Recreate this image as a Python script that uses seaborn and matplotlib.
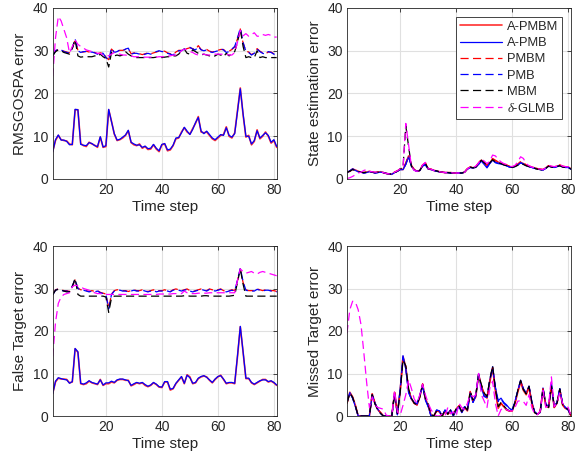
import matplotlib
matplotlib.use("Agg")
import matplotlib.pyplot as plt
import seaborn as sns
import pandas as pd

# ---------------- data ----------------
time_step = list(range(1, 82))
series_names = ["A-PMBM", "A-PMB", "PMBM", "PMB", "MBM", r"$\delta$-GLMB"]

# RMSGOSPA error
tl_apmbm = [6.4, 9.0, 10.2, 9.2, 9.0, 8.9, 8.2, 8.0, 16.2, 16.2,
            8.3, 7.8, 7.6, 8.6, 8.2, 7.9, 7.4, 9.8, 7.4, 7.6,
            16.2, 13.5, 10.5, 9.0, 9.2, 9.6, 10.2, 11.3, 8.5, 8.0,
            7.8, 8.2, 7.2, 7.6, 6.9, 7.0, 8.0, 7.0, 6.4, 8.0,
            8.2, 6.6, 6.8, 7.8, 9.4, 9.6, 11.0, 12.0, 11.0, 10.5,
            11.8, 13.0, 14.6, 11.0, 10.8, 11.0, 10.2, 9.4, 9.0, 9.6,
            10.2, 10.4, 12.2, 10.0, 9.6, 10.8, 16.0, 21.3, 15.0, 9.8,
            10.2, 8.0, 8.8, 11.5, 9.4, 10.0, 11.0, 10.0, 8.4, 9.0, 7.4]
tl_apmb = [6.3, 9.2, 10.3, 9.1, 9.1, 8.8, 8.0, 8.1, 16.3, 16.2,
           8.1, 7.9, 7.8, 8.5, 8.3, 7.8, 7.6, 9.9, 7.5, 7.8,
           16.3, 13.4, 10.6, 9.1, 9.3, 9.8, 10.3, 11.4, 8.6, 8.2,
           7.9, 8.0, 7.4, 7.7, 7.1, 7.2, 8.1, 7.2, 6.6, 8.1,
           8.3, 6.8, 7.0, 7.9, 9.6, 9.7, 10.8, 12.1, 11.2, 10.4,
           11.6, 13.2, 14.4, 11.2, 10.6, 11.2, 10.4, 9.6, 9.2, 9.8,
           10.4, 10.2, 12.0, 10.2, 9.8, 10.6, 15.8, 21.1, 15.2, 10.0,
           10.0, 8.2, 9.0, 11.3, 9.6, 10.2, 10.8, 10.2, 8.6, 9.2, 7.6]
tl_pmbm = [28.9, 29.9, 30.3, 30.1, 29.9, 29.7, 29.5, 30.5, 32.6, 30.1,
           29.7, 29.7, 29.9, 29.7, 29.6, 29.6, 29.3, 29.5, 29.5, 28.5,
           27.9, 30.4, 29.7, 29.9, 30.1, 30.1, 30.3, 30.5, 29.3, 29.5,
           29.5, 29.3, 29.1, 29.3, 29.5, 29.3, 29.5, 29.7, 29.9, 29.9,
           29.9, 29.5, 29.3, 29.1, 29.7, 30.1, 30.1, 30.3, 30.5, 30.7,
           30.5, 30.3, 31.2, 30.3, 30.1, 30.3, 29.9, 29.7, 29.9, 30.1,
           30.3, 30.3, 29.7, 29.9, 30.3, 30.9, 32.8, 35.1, 31.8, 29.9,
           29.7, 29.1, 29.5, 30.5, 29.9, 29.5, 29.3, 29.7, 29.7, 29.3, 29.3]
tl_pmb = [28.8, 30.0, 30.4, 30.2, 29.8, 29.6, 29.4, 30.6, 32.8, 30.0,
          29.6, 29.8, 29.8, 29.6, 29.7, 29.5, 29.2, 29.6, 29.4, 28.4,
          27.8, 30.6, 29.6, 29.8, 30.2, 30.0, 30.4, 30.6, 29.2, 29.4,
          29.4, 29.2, 29.0, 29.2, 29.4, 29.2, 29.4, 29.8, 30.0, 29.8,
          29.8, 29.4, 29.2, 29.0, 29.6, 30.0, 30.0, 30.4, 30.6, 30.8,
          30.4, 30.2, 31.0, 30.2, 30.0, 30.2, 29.8, 29.6, 29.8, 30.0,
          30.4, 30.2, 29.6, 29.8, 30.4, 31.0, 33.0, 35.3, 32.0, 29.8,
          29.6, 29.0, 29.4, 30.4, 29.8, 29.4, 29.2, 29.8, 29.6, 29.2, 29.2]
tl_mbm = [28.8, 29.8, 30.2, 30.0, 29.6, 29.4, 29.2, 30.6, 32.6, 28.8,
          28.5, 28.6, 28.6, 28.6, 28.6, 28.8, 28.6, 29.2, 28.6, 28.2,
          26.2, 29.6, 28.8, 29.0, 28.8, 29.0, 29.8, 29.2, 28.8, 28.6,
          28.4, 28.4, 28.4, 28.4, 28.4, 28.4, 28.4, 28.5, 28.5, 28.4,
          28.5, 28.6, 28.6, 28.8, 28.8, 29.2, 30.0, 30.4, 29.4, 29.2,
          30.2, 29.8, 29.4, 29.0, 29.2, 29.0, 28.8, 28.6, 28.8, 29.2,
          29.0, 28.6, 29.4, 28.8, 29.4, 29.8, 32.0, 35.0, 31.0, 28.4,
          28.6, 28.4, 28.4, 30.0, 28.4, 28.6, 28.4, 28.4, 28.4, 28.4, 28.4]
tl_glmb = [24.0, 33.0, 38.0, 37.0, 35.0, 33.0, 29.5, 31.0, 32.5, 31.5,
           31.0, 30.6, 30.2, 30.0, 29.8, 29.6, 29.4, 29.4, 29.0, 29.0,
           28.8, 29.2, 29.6, 29.4, 29.2, 29.0, 29.0, 28.8, 28.8, 28.6,
           28.6, 28.6, 28.5, 28.5, 28.5, 28.5, 28.5, 28.5, 28.6, 28.6,
           28.6, 28.8, 28.8, 29.0, 29.0, 29.4, 30.0, 30.4, 30.2, 29.8,
           29.6, 29.2, 29.0, 29.2, 29.2, 29.0, 29.0, 29.0, 29.2, 29.2,
           29.2, 29.2, 29.2, 29.0, 29.0, 29.6, 32.0, 34.8, 33.5, 34.0,
           33.4, 33.8, 34.2, 33.4, 33.4, 33.8, 33.6, 33.8, 33.6, 33.2, 33.2]

# State estimation error
tr_apmbm = [1.6, 1.8, 2.3, 2.1, 1.8, 1.6, 1.5, 1.6, 1.8, 1.6,
            1.5, 1.6, 1.7, 1.5, 1.3, 1.2, 1.1, 1.6, 1.9, 2.3,
            2.2, 3.6, 5.4, 3.2, 2.2, 1.8, 2.0, 3.2, 3.6, 2.4,
            2.3, 2.0, 1.9, 1.7, 1.6, 1.5, 1.5, 1.5, 1.4, 1.4,
            1.4, 1.4, 1.6, 2.4, 2.8, 2.6, 2.8, 3.6, 4.4, 3.8,
            2.9, 3.8, 4.6, 4.2, 3.9, 3.7, 3.4, 3.2, 2.9, 2.8,
            3.0, 3.4, 3.9, 3.6, 3.2, 3.0, 2.8, 2.6, 2.4, 2.3,
            2.2, 2.6, 3.1, 2.9, 2.8, 3.0, 3.2, 2.9, 2.8, 2.8, 2.4]
tr_apmb = [1.5, 1.9, 2.4, 2.0, 1.7, 1.6, 1.4, 1.5, 1.7, 1.6,
           1.4, 1.5, 1.6, 1.5, 1.3, 1.2, 1.1, 1.5, 1.8, 2.2,
           2.2, 3.4, 5.2, 3.0, 2.1, 1.8, 2.0, 3.0, 3.3, 2.3,
           2.2, 2.0, 1.8, 1.7, 1.6, 1.5, 1.5, 1.4, 1.4, 1.4,
           1.4, 1.4, 1.6, 2.3, 2.7, 2.6, 2.7, 3.4, 4.2, 3.4,
           2.6, 3.6, 4.4, 3.8, 3.6, 3.5, 3.3, 3.1, 2.8, 2.7,
           2.9, 3.3, 3.8, 3.5, 3.1, 2.9, 2.7, 2.5, 2.3, 2.2,
           2.1, 2.5, 3.0, 2.8, 2.7, 2.9, 3.1, 2.8, 2.7, 2.7, 2.3]
tr_pmbm = [1.6, 1.8, 2.3, 2.1, 1.8, 1.6, 1.5, 1.6, 1.8, 1.6,
           1.5, 1.6, 1.7, 1.5, 1.3, 1.2, 1.1, 1.6, 1.9, 2.3,
           2.3, 3.8, 5.5, 3.3, 2.2, 1.8, 2.0, 3.3, 3.8, 2.4,
           2.3, 2.0, 1.9, 1.7, 1.6, 1.5, 1.5, 1.5, 1.4, 1.4,
           1.4, 1.4, 1.6, 2.4, 2.8, 2.7, 2.9, 3.8, 4.6, 4.0,
           3.2, 4.0, 4.8, 4.4, 4.0, 3.8, 3.5, 3.3, 3.0, 2.9,
           3.1, 3.5, 4.1, 3.8, 3.3, 3.0, 2.8, 2.6, 2.4, 2.3,
           2.2, 2.6, 3.1, 2.9, 2.8, 3.0, 3.3, 3.0, 2.9, 2.8, 2.4]
tr_pmb = [1.5, 1.9, 2.3, 2.0, 1.7, 1.6, 1.4, 1.5, 1.7, 1.6,
          1.4, 1.5, 1.6, 1.5, 1.3, 1.2, 1.1, 1.5, 1.8, 2.2,
          2.2, 3.5, 5.3, 3.1, 2.1, 1.8, 2.0, 3.1, 3.4, 2.3,
          2.2, 2.0, 1.8, 1.7, 1.6, 1.5, 1.5, 1.4, 1.4, 1.4,
          1.4, 1.4, 1.6, 2.3, 2.7, 2.6, 2.8, 3.5, 4.3, 3.5,
          2.8, 3.7, 4.5, 3.9, 3.7, 3.6, 3.3, 3.1, 2.8, 2.7,
          2.9, 3.3, 3.8, 3.5, 3.1, 2.9, 2.7, 2.5, 2.3, 2.2,
          2.1, 2.5, 3.0, 2.8, 2.7, 2.9, 3.1, 2.8, 2.7, 2.7, 2.3]
tr_mbm = [1.6, 1.8, 2.2, 2.0, 1.7, 1.6, 1.5, 1.6, 1.8, 1.6,
          1.5, 1.6, 1.6, 1.5, 1.3, 1.2, 1.1, 1.5, 1.8, 2.4,
          2.6, 12.4, 7.6, 3.0, 2.1, 1.8, 2.0, 3.1, 3.6, 2.4,
          2.2, 2.0, 1.9, 1.7, 1.6, 1.5, 1.5, 1.4, 1.4, 1.4,
          1.4, 1.4, 1.6, 2.4, 2.8, 2.6, 2.8, 3.6, 4.4, 3.8,
          3.2, 3.8, 4.5, 4.0, 3.8, 3.6, 3.3, 3.1, 2.8, 2.7,
          2.9, 3.2, 3.6, 3.4, 3.1, 2.9, 2.7, 2.5, 2.3, 2.2,
          2.1, 2.5, 3.0, 2.8, 2.7, 2.9, 3.1, 2.8, 2.7, 2.7, 2.3]
tr_glmb = [0.1, 0.3, 0.6, 1.0, 1.4, 1.6, 2.0, 2.2, 1.8, 1.7,
           1.6, 1.6, 1.6, 1.5, 1.3, 1.2, 1.1, 1.6, 1.9, 2.4,
           2.6, 13.0, 8.0, 3.0, 2.0, 1.8, 2.0, 3.3, 3.9, 2.4,
           2.3, 2.0, 1.9, 1.7, 1.6, 1.5, 1.5, 1.5, 1.4, 1.4,
           1.4, 1.4, 1.6, 2.4, 2.8, 2.7, 3.0, 3.8, 4.6, 4.2,
           3.6, 4.2, 5.6, 5.4, 4.6, 4.0, 3.6, 3.4, 3.0, 2.9,
           3.2, 4.0, 5.2, 4.8, 3.6, 3.1, 2.8, 2.6, 2.4, 2.3,
           2.2, 2.6, 3.2, 3.0, 2.9, 3.0, 3.4, 3.0, 2.9, 2.8, 2.4]

# False Target error
bl_apmbm = [5.3, 8.0, 8.9, 8.7, 8.7, 8.6, 7.8, 8.0, 15.8, 15.0,
            7.6, 7.4, 7.6, 8.2, 7.8, 7.6, 7.4, 8.6, 7.2, 7.6,
            7.6, 8.0, 7.8, 8.4, 8.6, 8.6, 8.4, 8.4, 7.1, 7.4,
            7.8, 7.6, 7.8, 7.2, 6.9, 7.2, 7.8, 7.4, 6.8, 6.7,
            8.0, 8.0, 6.1, 6.4, 7.6, 8.4, 9.2, 7.6, 9.7, 9.2,
            7.6, 7.8, 8.8, 9.2, 9.4, 9.2, 8.4, 7.8, 8.6, 9.2,
            9.6, 8.6, 7.6, 7.8, 7.8, 7.6, 14.0, 21.0, 15.0, 8.8,
            8.8, 7.8, 7.4, 7.8, 8.2, 8.6, 8.6, 8.0, 8.2, 7.8, 7.2]
bl_apmb = [5.2, 8.2, 9.0, 8.8, 8.6, 8.5, 7.7, 8.1, 15.9, 15.1,
           7.7, 7.5, 7.8, 8.3, 7.9, 7.7, 7.5, 8.5, 7.3, 7.8,
           7.8, 8.2, 7.9, 8.5, 8.7, 8.7, 8.5, 8.3, 7.2, 7.6,
           7.9, 7.7, 7.9, 7.4, 7.0, 7.3, 7.9, 7.5, 6.9, 6.8,
           8.1, 8.1, 6.3, 6.5, 7.7, 8.5, 9.3, 7.7, 9.6, 9.0,
           7.7, 7.9, 8.9, 9.3, 9.5, 9.1, 8.5, 7.9, 8.7, 9.3,
           9.5, 8.7, 7.7, 7.9, 7.9, 7.7, 14.2, 21.1, 15.1, 8.9,
           8.9, 7.9, 7.5, 7.9, 8.3, 8.5, 8.5, 8.1, 8.3, 7.9, 7.3]
bl_pmbm = [28.6, 29.7, 29.9, 29.7, 29.5, 29.5, 29.3, 30.5, 32.0, 30.1,
           29.7, 29.7, 29.5, 29.3, 29.5, 29.3, 29.5, 29.1, 28.9, 28.7,
           25.4, 28.7, 29.5, 29.7, 29.7, 29.5, 29.5, 29.3, 29.5, 29.7,
           29.5, 29.5, 29.7, 29.5, 29.3, 29.5, 29.7, 29.3, 29.5, 29.5,
           29.7, 29.5, 29.3, 29.7, 29.9, 29.7, 29.5, 29.7, 29.9, 29.5,
           29.3, 29.5, 29.7, 29.9, 29.7, 29.5, 29.9, 29.7, 29.5, 29.7,
           29.9, 29.5, 29.3, 29.5, 29.7, 29.5, 31.8, 34.6, 31.4, 29.7,
           29.5, 29.5, 29.5, 29.9, 29.7, 29.5, 29.7, 29.7, 29.5, 29.5, 29.3]
bl_pmb = [28.5, 29.6, 29.9, 29.6, 29.4, 29.4, 29.2, 30.6, 32.2, 30.0,
          29.6, 29.6, 29.4, 29.2, 29.4, 29.2, 29.4, 29.0, 28.8, 28.6,
          25.2, 28.6, 29.4, 29.6, 29.6, 29.4, 29.4, 29.2, 29.4, 29.6,
          29.4, 29.4, 29.6, 29.4, 29.2, 29.4, 29.6, 29.2, 29.4, 29.4,
          29.6, 29.4, 29.2, 29.6, 29.8, 29.6, 29.4, 29.6, 29.8, 29.4,
          29.2, 29.4, 29.6, 29.8, 29.6, 29.4, 29.8, 29.6, 29.4, 29.6,
          29.8, 29.4, 29.2, 29.4, 29.6, 29.4, 32.0, 34.8, 31.6, 29.6,
          29.4, 29.4, 29.4, 29.8, 29.6, 29.4, 29.6, 29.6, 29.4, 29.4, 29.2]
bl_mbm = [28.5, 29.6, 29.8, 29.6, 29.4, 29.2, 29.2, 30.4, 32.4, 28.6,
          28.2, 28.2, 28.2, 28.2, 28.2, 28.2, 28.2, 28.2, 28.2, 28.0,
          24.4, 27.8, 28.2, 28.2, 28.2, 28.2, 28.2, 28.2, 28.2, 28.2,
          28.2, 28.2, 28.2, 28.2, 28.2, 28.2, 28.2, 28.2, 28.2, 28.2,
          28.2, 28.2, 28.2, 28.2, 28.2, 28.2, 28.2, 28.3, 28.3, 28.2,
          28.2, 28.2, 28.2, 28.2, 28.3, 28.3, 28.2, 28.2, 28.2, 28.2,
          28.2, 28.2, 28.2, 28.2, 28.3, 28.4, 31.5, 34.6, 31.0, 28.2,
          28.2, 28.2, 28.2, 28.2, 28.2, 28.2, 28.2, 28.2, 28.2, 28.2, 28.2]
bl_glmb = [14.0, 22.0, 26.5, 28.0, 28.6, 28.8, 29.0, 30.4, 30.8, 30.6,
           30.4, 30.0, 29.8, 29.6, 29.2, 29.0, 28.8, 28.8, 28.6, 28.6,
           28.6, 28.6, 28.6, 28.6, 28.6, 28.6, 28.6, 28.6, 28.6, 28.6,
           28.6, 28.6, 28.6, 28.6, 28.6, 28.6, 28.6, 28.6, 28.7, 28.7,
           28.7, 28.7, 28.7, 28.8, 28.8, 28.8, 28.8, 29.4, 29.0, 28.8,
           28.8, 28.8, 28.9, 28.9, 28.9, 28.9, 29.0, 29.0, 29.0, 29.0,
           29.0, 29.0, 29.0, 29.0, 29.0, 29.0, 32.0, 34.6, 34.0, 33.6,
           33.8, 34.0, 33.6, 33.4, 33.8, 34.0, 33.8, 33.6, 33.4, 33.2, 33.0]

# Missed Target error
br_apmbm = [3.0, 5.6, 4.5, 2.5, 0.0, 0.0, 0.0, 0.0, 0.0, 5.2,
            3.0, 1.5, 0.8, 0.0, 0.0, 0.0, 0.0, 5.5, 0.5, 6.0,
            14.0, 11.5, 6.0, 4.0, 3.0, 2.6, 4.5, 7.4, 4.0, 2.5,
            0.2, 0.0, 1.2, 1.0, 0.0, 1.2, 0.4, 1.2, 0.2, 1.6,
            2.4, 1.0, 2.0, 1.2, 5.6, 3.4, 4.5, 9.8, 7.0, 5.0,
            4.2, 8.0, 11.2, 6.0, 1.8, 3.0, 2.2, 1.4, 1.2, 1.2,
            3.0, 5.6, 8.0, 6.0, 5.0, 6.8, 3.0, 0.8, 0.4, 1.0,
            6.4, 2.5, 2.0, 7.2, 2.0, 3.0, 6.2, 2.6, 1.8, 1.6, 0.0]
br_apmb = [3.2, 5.5, 4.2, 2.2, 0.0, 0.0, 0.0, 0.0, 0.0, 5.0,
           3.0, 1.6, 0.6, 0.0, 0.0, 0.0, 0.0, 5.4, 0.3, 6.4,
           14.2, 11.0, 5.5, 4.0, 3.2, 2.8, 4.8, 7.2, 3.8, 2.2,
           0.0, 0.0, 1.4, 1.2, 0.0, 1.4, 0.6, 1.4, 0.0, 1.4,
           2.2, 0.8, 2.2, 1.4, 5.4, 3.2, 4.8, 10.0, 6.6, 4.6,
           4.4, 8.4, 11.6, 6.8, 3.6, 4.2, 3.2, 2.6, 1.8, 1.4,
           3.4, 6.0, 8.4, 6.4, 5.4, 7.0, 3.4, 1.0, 0.4, 0.8,
           6.6, 2.8, 2.2, 7.6, 2.2, 3.2, 6.4, 2.8, 2.0, 1.4, 0.0]
br_pmbm = [3.0, 5.5, 4.4, 2.4, 0.0, 0.0, 0.0, 0.0, 0.0, 5.2,
           3.0, 1.5, 0.8, 0.0, 0.0, 0.0, 0.0, 5.6, 0.5, 5.8,
           13.6, 11.6, 6.2, 4.2, 3.0, 2.6, 4.6, 7.6, 4.2, 2.6,
           0.3, 0.0, 1.2, 1.0, 0.0, 1.2, 0.4, 1.2, 0.2, 1.6,
           2.4, 1.0, 2.0, 1.4, 5.8, 3.6, 4.8, 9.6, 7.2, 5.2,
           4.4, 8.2, 11.4, 6.2, 1.8, 3.0, 2.2, 1.4, 1.2, 1.2,
           3.0, 5.8, 8.2, 6.2, 5.2, 6.8, 3.0, 0.8, 0.4, 1.0,
           6.4, 2.5, 2.0, 7.4, 2.0, 3.0, 6.2, 2.6, 1.8, 1.6, 0.0]
br_pmb = [3.2, 5.5, 4.2, 2.2, 0.0, 0.0, 0.0, 0.0, 0.0, 5.0,
          3.0, 1.6, 0.6, 0.0, 0.0, 0.0, 0.0, 5.4, 0.3, 6.2,
          13.8, 11.2, 5.6, 4.0, 3.2, 2.8, 4.8, 7.2, 3.8, 2.2,
          0.0, 0.0, 1.4, 1.2, 0.0, 1.4, 0.6, 1.4, 0.0, 1.4,
          2.2, 0.8, 2.2, 1.4, 5.4, 3.2, 4.8, 9.8, 6.6, 4.6,
          4.4, 8.4, 11.4, 6.6, 3.4, 4.0, 3.0, 2.4, 1.8, 1.4,
          3.4, 6.0, 8.2, 6.4, 5.4, 7.0, 3.4, 1.0, 0.4, 0.8,
          6.6, 2.8, 2.2, 7.4, 2.2, 3.2, 6.4, 2.8, 2.0, 1.4, 0.0]
br_mbm = [3.0, 5.4, 4.4, 2.4, 0.0, 0.0, 0.0, 0.0, 0.0, 5.0,
          2.8, 1.4, 0.6, 0.0, 0.0, 0.0, 0.0, 5.4, 0.6, 5.6,
          13.2, 11.8, 6.4, 4.2, 3.0, 2.6, 4.4, 7.4, 4.2, 2.8,
          0.4, 0.0, 1.2, 1.0, 0.0, 1.4, 0.4, 1.4, 0.2, 1.8,
          2.4, 1.0, 2.2, 1.4, 5.8, 3.8, 5.0, 9.6, 7.4, 5.4,
          4.6, 8.6, 11.8, 6.4, 2.2, 3.2, 2.4, 1.6, 1.2, 1.2,
          3.2, 6.0, 8.4, 6.2, 5.2, 7.0, 3.2, 0.8, 0.4, 1.0,
          6.4, 2.6, 2.0, 7.0, 2.2, 3.0, 6.4, 2.8, 1.8, 1.6, 0.0]
br_glmb = [19.5, 25.0, 27.0, 26.8, 25.0, 21.5, 15.0, 8.0, 2.0, 4.5,
           2.5, 2.0, 1.8, 1.6, 0.2, 0.0, 0.0, 6.0, 1.0, 0.2,
           2.5, 5.0, 8.5, 6.5, 4.0, 3.0, 5.0, 7.5, 5.0, 3.0,
           1.5, 0.5, 0.0, 0.0, 0.5, 0.0, 2.0, 0.5, 1.0, 0.0,
           3.0, 2.0, 1.5, 3.0, 5.0, 4.5, 5.0, 10.0, 5.0, 3.5,
           2.0, 6.5, 8.2, 3.0, 0.0, 1.5, 2.0, 1.5, 1.2, 1.2,
           2.0, 3.5, 3.6, 3.4, 2.5, 5.0, 2.0, 0.5, 0.3, 1.2,
           6.0, 2.0, 2.5, 9.2, 2.2, 3.0, 5.5, 3.0, 2.5, 2.0, 0.0]

panels = [
    ("RMSGOSPA error", [tl_apmbm, tl_apmb, tl_pmbm, tl_pmb, tl_mbm, tl_glmb]),
    ("State estimation error", [tr_apmbm, tr_apmb, tr_pmbm, tr_pmb, tr_mbm, tr_glmb]),
    ("False Target error", [bl_apmbm, bl_apmb, bl_pmbm, bl_pmb, bl_mbm, bl_glmb]),
    ("Missed Target error", [br_apmbm, br_apmb, br_pmbm, br_pmb, br_mbm, br_glmb]),
]

# ---------------- style ----------------
sns.set_style("white")
plt.rcParams["font.family"] = ["Liberation Sans", "DejaVu Sans"]
plt.rcParams["mathtext.fontset"] = "custom"
plt.rcParams["mathtext.it"] = "Liberation Serif:italic"
plt.rcParams["mathtext.rm"] = "Liberation Sans"

DASH = (0, (6.5, 3.5))
styles = [
    dict(color="#FF3030", linestyle="-", linewidth=1.2),
    dict(color="#0000FF", linestyle="-", linewidth=0.9),
    dict(color="#FF0000", linestyle=DASH, linewidth=0.9),
    dict(color="#0000FF", linestyle=DASH, linewidth=0.9),
    dict(color="#000000", linestyle=DASH, linewidth=0.9),
    dict(color="#FF00FF", linestyle=DASH, linewidth=0.9),
]

W, H = 576, 461
fig = plt.figure(figsize=(W / 100, H / 100), dpi=100)
boxes = [
    (52.7, 8, 276.7, 179),
    (347, 8, 571, 179),
    (52.7, 246, 276.7, 416),
    (347, 246, 571, 416),
]
axc = "#262626"
for i, ((ylabel, series), (x0, y0, x1, y1)) in enumerate(zip(panels, boxes)):
    ax = fig.add_axes([x0 / W, 1 - y1 / H, (x1 - x0) / W, (y1 - y0) / H])
    for name, vals, st in zip(series_names, series, styles):
        df = pd.DataFrame({"Time step": time_step, "err": vals})
        sns.lineplot(data=df, x="Time step", y="err", ax=ax, label=name,
                     legend=False, estimator=None, sort=False, **st)
    ax.set_xlim(1, 81)
    ax.set_ylim(0, 40)
    ax.set_xticks([20, 40, 60, 80])
    ax.set_yticks([0, 10, 20, 30, 40])
    ax.grid(True, color="#E0E0E0", linewidth=0.8)
    ax.set_axisbelow(True)
    for sp in ax.spines.values():
        sp.set_color(axc)
        sp.set_linewidth(0.6)
    ax.tick_params(direction="in", length=3, width=0.6, color=axc,
                   labelsize=10, labelcolor="#262626", pad=3,
                   top=True, right=True)
    ax.set_xlabel("Time step", fontsize=11, color="#262626", labelpad=2)
    ax.set_ylabel(ylabel, fontsize=11, color="#262626", labelpad=4)
    if i == 1:
        leg = ax.legend(loc="upper right", bbox_to_anchor=(0.96, 0.947),
                        borderaxespad=0, fontsize=9.3, handlelength=3.3,
                        labelspacing=0.32, handletextpad=0.35, borderpad=0.3,
                        fancybox=False, framealpha=1, edgecolor="#262626")
        leg.get_frame().set_linewidth(0.6)
    else:
        if ax.get_legend() is not None:
            ax.get_legend().remove()

fig.savefig("out.png", dpi=100)
